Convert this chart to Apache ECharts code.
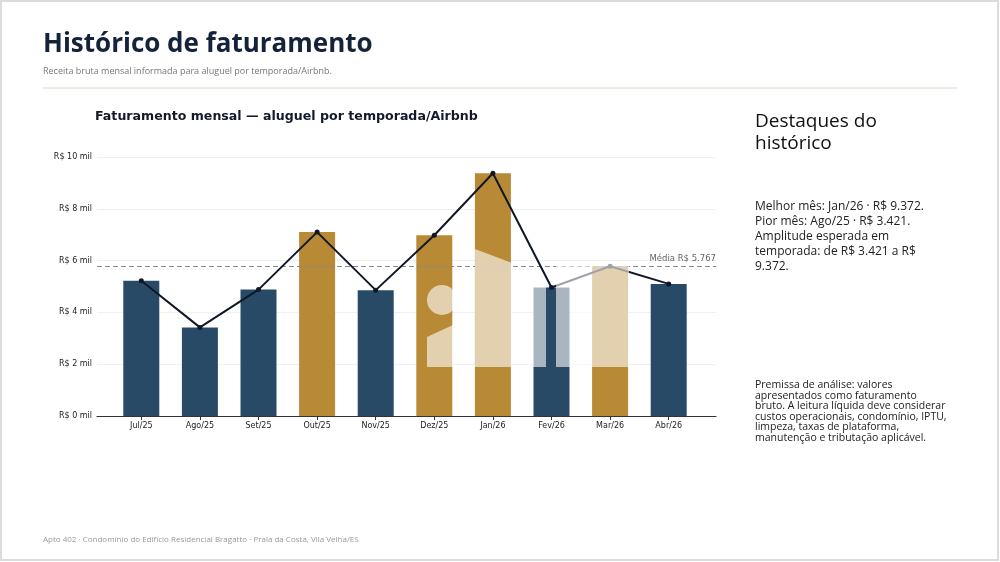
<!doctype html>
<html>
  <head>
    <meta charset="utf-8">
    <title>Histórico de faturamento</title>
    <script src="https://cdn.jsdelivr.net/npm/echarts@6/dist/echarts.min.js"></script>
    <style>
      html, body { margin: 0; padding: 0; background: #fff; }
      #main { width: 1000px; height: 562px; }
    </style>
  </head>
  <body>
    <div id="main"></div>
    <script type="text/javascript">
      // dados do grafico
      var meses = ['Jul/25', 'Ago/25', 'Set/25', 'Out/25', 'Nov/25', 'Dez/25', 'Jan/26', 'Fev/26', 'Mar/26', 'Abr/26'];
      var faturamento = [5220, 3421, 4880, 7100, 4860, 6980, 9372, 4960, 5780, 5100];
      var ticksY = [0, 2000, 4000, 6000, 8000, 10000];

      var media = faturamento.reduce(function (a, b) { return a + b; }, 0) / faturamento.length;

      var azul = '#284a67';
      var ouro = '#b98a36';

      var myChart = echarts.init(document.getElementById('main'));

      var barras = faturamento.map(function (v) {
        return { value: v, itemStyle: { color: v >= media ? ouro : azul } };
      });

      function fmtMil(v) { return 'R$ ' + (v / 1000) + ' mil'; }
      function fmtBR(v) { return Math.round(v).toString().replace(/\B(?=(\d{3})+(?!\d))/g, '.'); }

      var fonteGraf = 'DejaVu Sans';
      var fontePag = '"Open Sans", "Noto Sans", sans-serif';
      var veu = 'rgba(255,255,255,0.6)';

      var option = {
        animation: false,
        grid: [
          { left: 97, right: 284, top: 157, bottom: 146 },
          { left: 112, right: 302, top: 157, bottom: 146 }
        ],
        xAxis: [
          {
            gridIndex: 0, type: 'value', min: 0, max: 1,
            axisLine: { show: true, lineStyle: { color: '#333', width: 1.2 } },
            axisTick: { show: false }, axisLabel: { show: false }, splitLine: { show: false }
          },
          {
            gridIndex: 1, type: 'category', data: meses,
            axisLine: { show: false },
            axisTick: { show: true, alignWithLabel: true, length: 4, lineStyle: { color: '#333' } },
            axisLabel: { color: '#222', fontFamily: fonteGraf, fontSize: 8, margin: 6 }
          }
        ],
        yAxis: [
          {
            gridIndex: 0, type: 'value', min: 0, max: 10000, interval: 2000,
            axisLine: { show: false }, axisTick: { show: false },
            axisLabel: { formatter: fmtMil, color: '#222', fontFamily: fonteGraf, fontSize: 8, margin: 5 },
            splitLine: { lineStyle: { color: '#f0f0f0', width: 1 } }
          },
          {
            gridIndex: 1, type: 'value', min: 0, max: 10000, show: false
          }
        ],
        series: [
          {
            type: 'line', xAxisIndex: 0, yAxisIndex: 0,
            data: [],
            markLine: {
              silent: true, symbol: 'none',
              lineStyle: { color: '#888', type: [5, 3], width: 1.2 },
              label: {
                position: 'insideEndTop', formatter: 'Média R$ ' + fmtBR(media),
                color: '#666', fontFamily: fonteGraf, fontSize: 8.5, distance: [0, 3]
              },
              data: [{ yAxis: media }]
            }
          },
          {
            type: 'bar', xAxisIndex: 1, yAxisIndex: 1,
            barWidth: 36, data: barras
          },
          {
            type: 'line', xAxisIndex: 1, yAxisIndex: 1,
            data: faturamento,
            symbol: 'circle', symbolSize: 5,
            lineStyle: { color: '#101826', width: 2 },
            itemStyle: { color: '#101826' }, z: 5
          }
        ],
        graphic: [
          { type: 'rect', shape: { x: 1, y: 1, width: 997, height: 559 }, style: { fill: 'none', stroke: '#dcdcdc', lineWidth: 2 } },
          { type: 'text', left: 43, top: 32, style: { text: 'Histórico de faturamento', fontFamily: fontePag, fontWeight: 'bold', fontSize: 26, fill: '#14223a' } },
          { type: 'text', left: 43, top: 67, style: { text: 'Receita bruta mensal informada para aluguel por temporada/Airbnb.', fontFamily: fontePag, fontSize: 9, fill: '#777' } },
          { type: 'line', shape: { x1: 43, y1: 88, x2: 957, y2: 88 }, style: { stroke: '#ddd6c8', lineWidth: 1 } },
          { type: 'text', left: 95, top: 110, style: { text: 'Faturamento mensal — aluguel por temporada/Airbnb', fontFamily: fonteGraf, fontWeight: 'bold', fontSize: 12.6, fill: '#111a2b' } },
          { type: 'text', left: 755, top: 111, style: { text: 'Destaques do\nhistórico', fontFamily: fontePag, fontSize: 19, lineHeight: 22, fill: '#111' } },
          { type: 'text', left: 755, top: 199, style: {
              text: 'Melhor mês: Jan/26 · R$ 9.372.\nPior mês: Ago/25 · R$ 3.421.\nAmplitude esperada em\ntemporada: de R$ 3.421 a R$\n9.372.',
              fontFamily: fontePag, fontSize: 12, lineHeight: 15, fill: '#222' } },
          { type: 'text', left: 755, top: 380, style: {
              text: 'Premissa de análise: valores\napresentados como faturamento\nbruto. A leitura líquida deve considerar\ncustos operacionais, condomínio, IPTU,\nlimpeza, taxas de plataforma,\nmanutenção e tributação aplicável.',
              fontFamily: fontePag, fontSize: 10.5, lineHeight: 10.5, fill: '#222' } },
          { type: 'text', left: 43, top: 536, style: { text: 'Apto 402 · Condomínio do Edifício Residencial Bragatto · Praia da Costa, Vila Velha/ES', fontFamily: fontePag, fontSize: 8, fill: '#999' } },
          // marca d'agua clara sobre as barras
          { type: 'circle', z: 100, shape: { cx: 442, cy: 300, r: 15 }, style: { fill: veu } },
          { type: 'polygon', z: 100, shape: { points: [[427, 337], [453, 325], [453, 367], [427, 367]] }, style: { fill: veu } },
          { type: 'polygon', z: 100, shape: { points: [[475, 249], [512, 263], [512, 367], [475, 367]] }, style: { fill: veu } },
          { type: 'rect', z: 100, shape: { x: 533, y: 287, width: 13, height: 80 }, style: { fill: veu } },
          { type: 'rect', z: 100, shape: { x: 556, y: 262, width: 73, height: 105 }, style: { fill: veu } }
        ]
      };
      myChart.setOption(option);
    </script>
  </body>
</html>
